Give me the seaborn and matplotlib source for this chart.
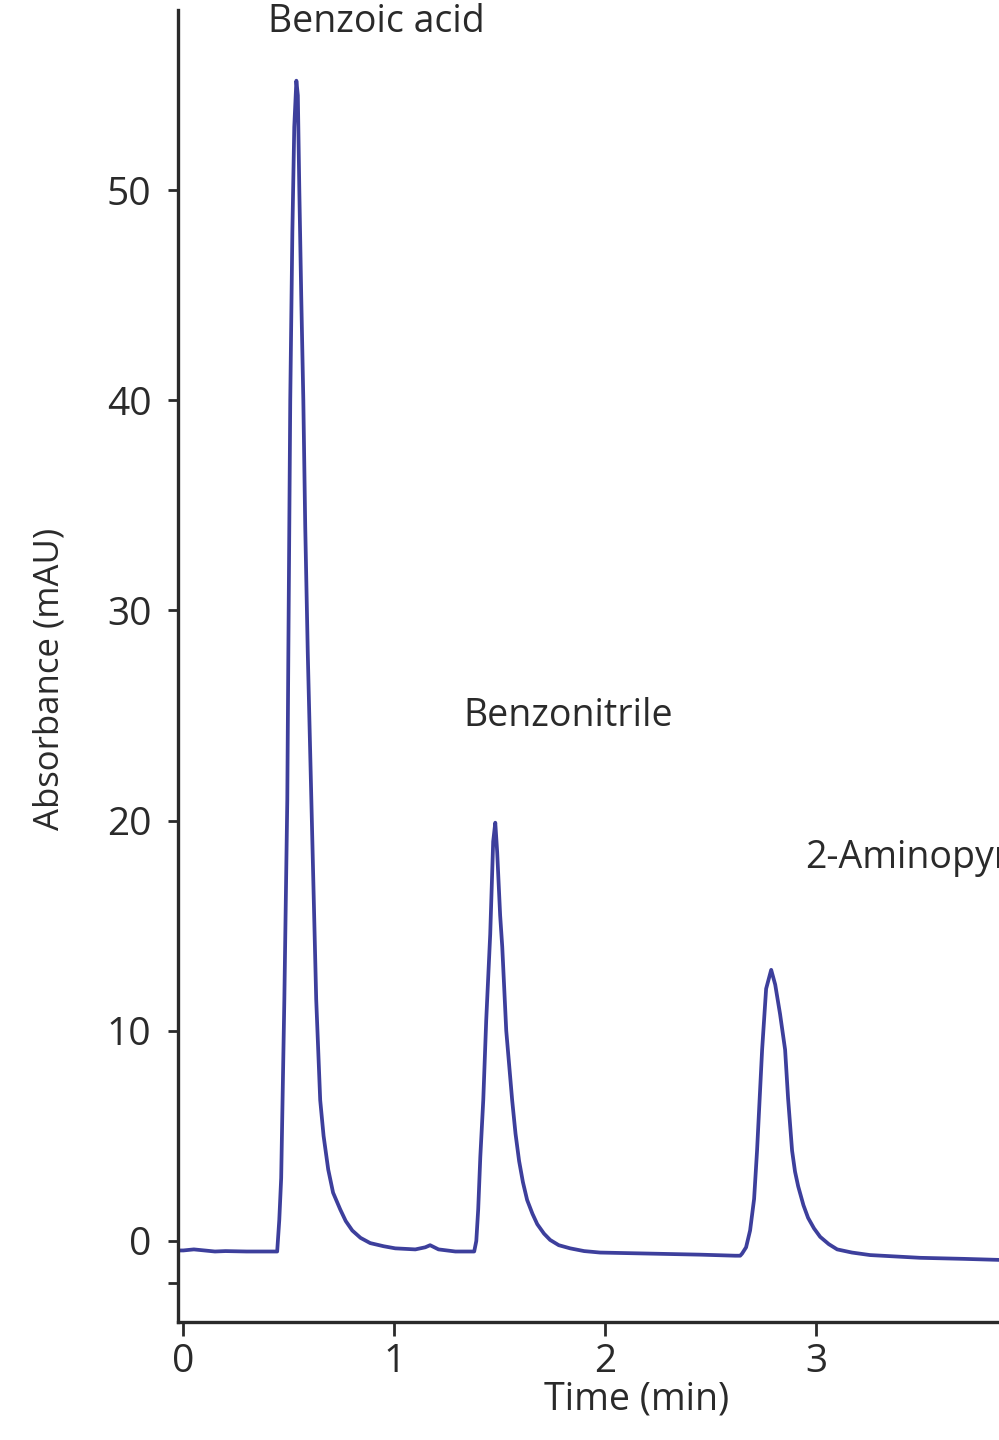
import matplotlib
matplotlib.use("Agg")
import matplotlib.pyplot as plt
import pandas as pd
import seaborn as sns

# chromatogram trace (time in min, absorbance in mAU)
time_min = [
    -0.03, 0.00, 0.05, 0.10, 0.15, 0.20, 0.30, 0.40, 0.445,
    0.455, 0.464, 0.479, 0.493, 0.498, 0.507, 0.517, 0.526, 0.536,
    0.543, 0.550, 0.559, 0.569, 0.578, 0.590, 0.607, 0.630, 0.649,
    0.665, 0.687, 0.710, 0.744, 0.770, 0.801, 0.840, 0.886, 0.950,
    1.005, 1.10, 1.147, 1.17, 1.21, 1.29, 1.379,
    1.389, 1.398, 1.408, 1.422, 1.436, 1.455, 1.469, 1.479, 1.488,
    1.502, 1.512, 1.531, 1.559, 1.575, 1.592, 1.610, 1.630, 1.655,
    1.678, 1.710, 1.739, 1.780, 1.834, 1.900,
    1.976, 2.213, 2.45, 2.616, 2.640,
    2.649, 2.668, 2.687, 2.706, 2.720, 2.744, 2.763, 2.787, 2.806,
    2.829, 2.853, 2.867, 2.886, 2.900, 2.915, 2.940, 2.962, 2.990,
    3.019, 3.060, 3.100, 3.170, 3.256,
    3.493, 3.70, 3.87,
]
absorbance = [
    -0.45, -0.45, -0.40, -0.45, -0.50, -0.48, -0.50, -0.50, -0.50,
    1.0, 3.0, 11.5, 21.0, 28.0, 40.0, 48.0, 53.0, 55.2,
    54.5, 50.0, 45.0, 40.0, 34.0, 28.0, 21.0, 11.5, 6.7,
    5.0, 3.4, 2.3, 1.5, 0.95, 0.5, 0.15, -0.1, -0.25,
    -0.35, -0.40, -0.30, -0.20, -0.40, -0.50, -0.50,
    0.0, 1.5, 4.0, 6.7, 10.5, 14.6, 19.0, 19.9, 18.5,
    15.5, 14.0, 10.0, 6.7, 5.1, 3.8, 2.8, 1.95, 1.3,
    0.8, 0.35, 0.05, -0.2, -0.35, -0.48,
    -0.55, -0.60, -0.65, -0.70, -0.70,
    -0.60, -0.30, 0.50, 2.0, 4.3, 9.1, 12.0, 12.9, 12.2,
    10.8, 9.1, 6.8, 4.3, 3.3, 2.6, 1.7, 1.1, 0.6,
    0.2, -0.15, -0.40, -0.55, -0.67,
    -0.80, -0.85, -0.90,
]

peak_names = ["Benzoic acid", "Benzonitrile", "2-Aminopyridine"]
label_x = [0.915, 1.825, 2.948]
label_y = [58.0, 25.0, 18.2]
label_ha = ["center", "center", "left"]

x_ticks = [0, 1, 2, 3]
y_ticks = [-2, 0, 10, 20, 30, 40, 50]
y_tick_labels = ["", "0", "10", "20", "30", "40", "50"]

sns.set_theme(style="ticks")
plt.rcParams["font.family"] = ["Open Sans", "DejaVu Sans"]
ink = "#2a2a2a"

df = pd.DataFrame({"time": time_min, "abs": absorbance})

fig = plt.figure(figsize=(9.99, 14.4), dpi=100)
ax = fig.add_axes([0.178, 0.082, 0.822, 0.911])
sns.lineplot(data=df, x="time", y="abs", ax=ax, color="#3d3f9c",
             linewidth=2.7, estimator=None, sort=False)
for ln in ax.lines:
    ln.set_solid_joinstyle("round")

ax.set_xlim(-0.026, 3.867)
ax.set_ylim(-3.85, 58.56)
ax.set_xticks(x_ticks)
ax.set_yticks(y_ticks)
ax.set_yticklabels(y_tick_labels)
ax.tick_params(axis="both", labelsize=28, colors=ink, width=2, direction="out")
ax.tick_params(axis="x", length=10, pad=5)
ax.tick_params(axis="y", length=7, pad=12)

for side in ["top", "right"]:
    ax.spines[side].set_visible(False)
for side in ["left", "bottom"]:
    ax.spines[side].set_linewidth(2.4)
    ax.spines[side].set_color(ink)

ax.set_xlabel("Time (min)", fontsize=27, color=ink)
ax.set_ylabel("Absorbance (mAU)", fontsize=25, color=ink)
ax.xaxis.set_label_coords(0.559, -0.045)
ax.yaxis.set_label_coords(-0.135, 0.49)

for name, tx, ty, ha in zip(peak_names, label_x, label_y, label_ha):
    ax.text(tx, ty, name, ha=ha, va="center", fontsize=27, color=ink, clip_on=False)

fig.savefig("out.png", dpi=100)
